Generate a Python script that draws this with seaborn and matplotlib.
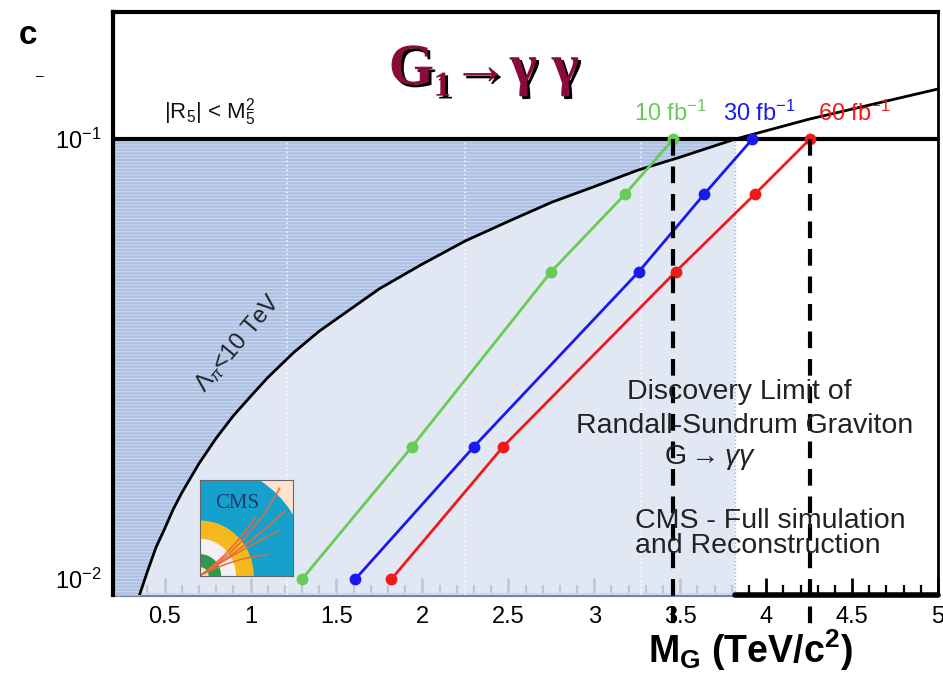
import numpy as np
import pandas as pd
import matplotlib
matplotlib.use("Agg")
import matplotlib.pyplot as plt
import matplotlib.patheffects as pe
from matplotlib.patches import Wedge, Rectangle, PathPatch
from matplotlib.path import Path
from matplotlib.ticker import FixedLocator, MultipleLocator, FuncFormatter, NullFormatter
import seaborn as sns

# 5-sigma discovery reach for the RS graviton G -> gamma gamma
lumi_labels = ["10 fb$^{-1}$", "30 fb$^{-1}$", "60 fb$^{-1}$"]
coupling = [0.01, 0.02, 0.05, 0.075, 0.1]          # k / M_Pl
mass_10fb = [1.30, 1.94, 2.75, 3.18, 3.46]          # TeV/c^2
mass_30fb = [1.61, 2.30, 3.26, 3.64, 3.92]
mass_60fb = [1.82, 2.47, 3.475, 3.935, 4.255]
line_colors = ["#66cc55", "#1a1aee", "#ee1a1a"]

# Lambda_pi = 10 TeV boundary
lam_mass = [0.2, 0.25, 0.3, 0.35, 0.4, 0.45, 0.5, 0.55, 0.6, 0.7, 0.8, 0.9, 1.0, 1.1,
            1.25, 1.4, 1.5, 1.75, 2.0, 2.25, 2.5, 2.75, 3.0, 3.25, 3.5, 3.82, 4.25,
            4.5, 5.0]
lam_coupling = [0.0052, 0.0065, 0.0078, 0.0091, 0.0104, 0.0118, 0.013, 0.0144, 0.0157,
                0.0183, 0.0209, 0.0235, 0.026, 0.0287, 0.0327, 0.0366, 0.039, 0.0457,
                0.052, 0.0587, 0.065, 0.0718, 0.078, 0.0849, 0.091, 0.1, 0.111,
                0.117, 0.13]

x_ticks = [0.5, 1, 1.5, 2, 2.5, 3, 3.5, 4, 4.5, 5]
y_ticks = [0.01, 0.1]
y_tick_labels = ["10$^{-2}$", "10$^{-1}$"]

sns.set_theme(style="white")
plt.rcParams["font.family"] = ["Liberation Sans", "DejaVu Sans"]
plt.rcParams["mathtext.fontset"] = "custom"
plt.rcParams["mathtext.rm"] = "Liberation Sans"
plt.rcParams["mathtext.it"] = "Liberation Sans:italic"
plt.rcParams["mathtext.bf"] = "Liberation Sans:bold"

W, H = 943, 676
fig = plt.figure(figsize=(W / 100, H / 100), dpi=100)
ax = fig.add_axes([113 / W, 1 - 595 / H, (938 - 113) / W, (595 - 12) / H])

xmin, xmax = 0.2, 5.0
ymin, ymax = 0.0092, 0.1945
ax.set_xlim(xmin, xmax)
ax.set_yscale("log")
ax.set_ylim(ymin, ymax)

lam_m = np.array(lam_mass)
lam_c = np.array(lam_coupling)
cross = lam_m[np.argmin(np.abs(lam_c - 0.1))]

# allowed region (|R5| < M5^2) and the Lambda_pi > 10 TeV band
ax.fill_between([xmin, cross], ymin, 0.1, color="#dde5f3", alpha=0.88, lw=0, zorder=3)
ax.fill_between(lam_m, lam_c, 0.1, where=lam_c <= 0.1, interpolate=True,
                color="#a7bde2", alpha=0.92, lw=0, zorder=3.1)
ax.fill_between(lam_m, lam_c, 0.1, where=lam_c <= 0.1, interpolate=True,
                facecolor="none", edgecolor="#c6d4ee", hatch="-----", lw=0, zorder=3.15)
ax.vlines([1.215, 2.25, 3.27], ymin, 0.1, colors="white", linestyles=":", lw=1.2,
          alpha=0.8, zorder=3.2)
ax.vlines([cross], ymin, 0.1, colors="#9fb3dc", linestyles=":", lw=1, zorder=3.2)

ax.plot(lam_m, lam_c, color="black", lw=2, zorder=4, solid_joinstyle="round")
ax.axhline(0.1, color="black", lw=3, zorder=4)

# discovery curves
frames = []
for lab, masses in zip(lumi_labels, [mass_10fb, mass_30fb, mass_60fb]):
    frames.append(pd.DataFrame({"mass": masses, "coupling": coupling, "lumi": lab}))
df = pd.concat(frames, ignore_index=True)
sns.lineplot(data=df, x="mass", y="coupling", hue="lumi", palette=line_colors,
             marker="o", markersize=8.5, markeredgewidth=0, linewidth=2,
             legend=False, ax=ax, zorder=5)

# reach at 10 and 60 fb^-1 for k/M_Pl = 0.1
for m in [mass_10fb[-1], mass_60fb[-1]]:
    ax.plot([m, m], [0.1, 0.0079], color="black", lw=3, ls=(0, (4, 2.6)),
            clip_on=False, zorder=6)

# bottom axis: black outside the shaded area
ax.plot([cross, xmax], [ymin, ymin], color="black", lw=4, clip_on=False, zorder=6)

ax.set_xlabel("")
ax.set_ylabel("")
ax.xaxis.set_major_locator(FixedLocator(x_ticks))
ax.xaxis.set_minor_locator(MultipleLocator(0.1))
ax.xaxis.set_major_formatter(FuncFormatter(lambda v, p: f"{v:g}"))
ax.yaxis.set_major_locator(FixedLocator(y_ticks))
ax.set_yticklabels(y_tick_labels)
ax.yaxis.set_minor_formatter(NullFormatter())
ax.tick_params(axis="x", which="major", direction="in", length=12, width=2,
               color="black", labelcolor="black", labelsize=17, pad=8, bottom=True)
ax.tick_params(axis="x", which="minor", direction="in", length=7, width=1.6,
               color="black", bottom=True)
ax.tick_params(axis="y", which="major", direction="in", length=10, width=2,
               color="black", labelcolor="black", labelsize=17, pad=8, left=True)
ax.tick_params(axis="y", which="minor", direction="in", length=6, width=2.5,
               color="black", left=True)
ax.grid(False)

for side in ["left", "top"]:
    ax.spines[side].set_linewidth(3)
    ax.spines[side].set_color("black")
    ax.spines[side].set_zorder(6)
ax.spines["right"].set_linewidth(2)
ax.spines["right"].set_color("black")
ax.spines["right"].set_zorder(6)
ax.spines["bottom"].set_linewidth(3)
ax.spines["bottom"].set_color("#7085ad")

def fx(px):
    return px / W

def fy(py):
    return 1 - py / H

# annotations
fig.text(fx(484), fy(70), "G\u2081\u2192\u03b3 \u03b3", ha="center", va="center",
         fontsize=42, fontweight="bold", color="#8a0a3c",
         family=["Liberation Serif", "DejaVu Serif"],
         path_effects=[pe.withSimplePatchShadow(offset=(2, -2), shadow_rgbFace="black",
                                                alpha=1.0)])
fig.text(fx(210), fy(112), "|R$_5$| < M$_5^2$", ha="center", va="center",
         fontsize=16, color="#111111")
for lab, col, px in zip(lumi_labels, line_colors, [670, 759, 854]):
    fig.text(fx(px), fy(113), lab, ha="center", va="center", fontsize=17, color=col)

fig.text(fx(238), fy(343), r"$\Lambda_\pi$<10 TeV", ha="center", va="center",
         fontsize=17, rotation=50, color="#222222")

txt_kw = dict(fontsize=20.5, color="#222222", va="center")
fig.text(fx(739), fy(392), "Discovery Limit of", ha="center", **txt_kw)
fig.text(fx(745), fy(426), "Randall-Sundrum Graviton", ha="center", **txt_kw)
fig.text(fx(710), fy(457), r"G$\rightarrow\gamma\gamma$", ha="center", **txt_kw)
fig.text(fx(635), fy(521), "CMS - Full simulation", ha="left", **txt_kw)
fig.text(fx(635), fy(546), "and Reconstruction", ha="left", **txt_kw)

fig.text(fx(750), fy(650), r"M$_\mathbf{G}$ (TeV/c$^\mathbf{2}$)", ha="center",
         va="center", fontsize=27, fontweight="bold", color="black")

fig.text(fx(28), fy(36), "c", ha="center", va="center", fontsize=24,
         fontweight="bold", color="black")
fig.text(fx(40), fy(76), "\u2013", ha="center", va="center", fontsize=10, color="black")

# CMS logo
logo = fig.add_axes([fx(200), fy(576), 93 / W, 96 / H])
logo.set_xlim(0, 1)
logo.set_ylim(0, 1)
logo.set_xticks([])
logo.set_yticks([])
for s in logo.spines.values():
    s.set_color("#666666")
    s.set_linewidth(0.8)
logo.add_patch(Rectangle((0, 0), 1, 1, color="#fde2cc"))
logo.add_patch(Wedge((0, 0), 1.18, 0, 90, width=0.61, color="#15a1cb"))
logo.add_patch(Wedge((0, 0), 0.57, 0, 90, width=0.19, color="#f5b81f"))
logo.add_patch(Wedge((0, 0), 0.38, 0, 90, width=0.16, color="#f3eff2"))
logo.add_patch(Wedge((0, 0), 0.22, 0, 90, width=0.12, color="#2b9a4d"))
for end, ctrl in [((0.86, 0.92), (0.55, 0.35)), ((0.92, 0.68), (0.5, 0.3)),
                  ((0.85, 0.47), (0.45, 0.28)), ((0.72, 0.22), (0.4, 0.2)),
                  ((0.6, 0.62), (0.35, 0.25))]:
    path = Path([(0.01, 0.01), ctrl, end], [Path.MOVETO, Path.CURVE3, Path.CURVE3])
    logo.add_patch(PathPatch(path, facecolor="none", edgecolor="#e86a3c", lw=1.1))
logo.text(0.4, 0.76, "CMS", ha="center", va="center", fontsize=15,
          family=["Liberation Serif", "DejaVu Serif"], color="#1c3b6e")

fig.savefig("out.png", dpi=100)
